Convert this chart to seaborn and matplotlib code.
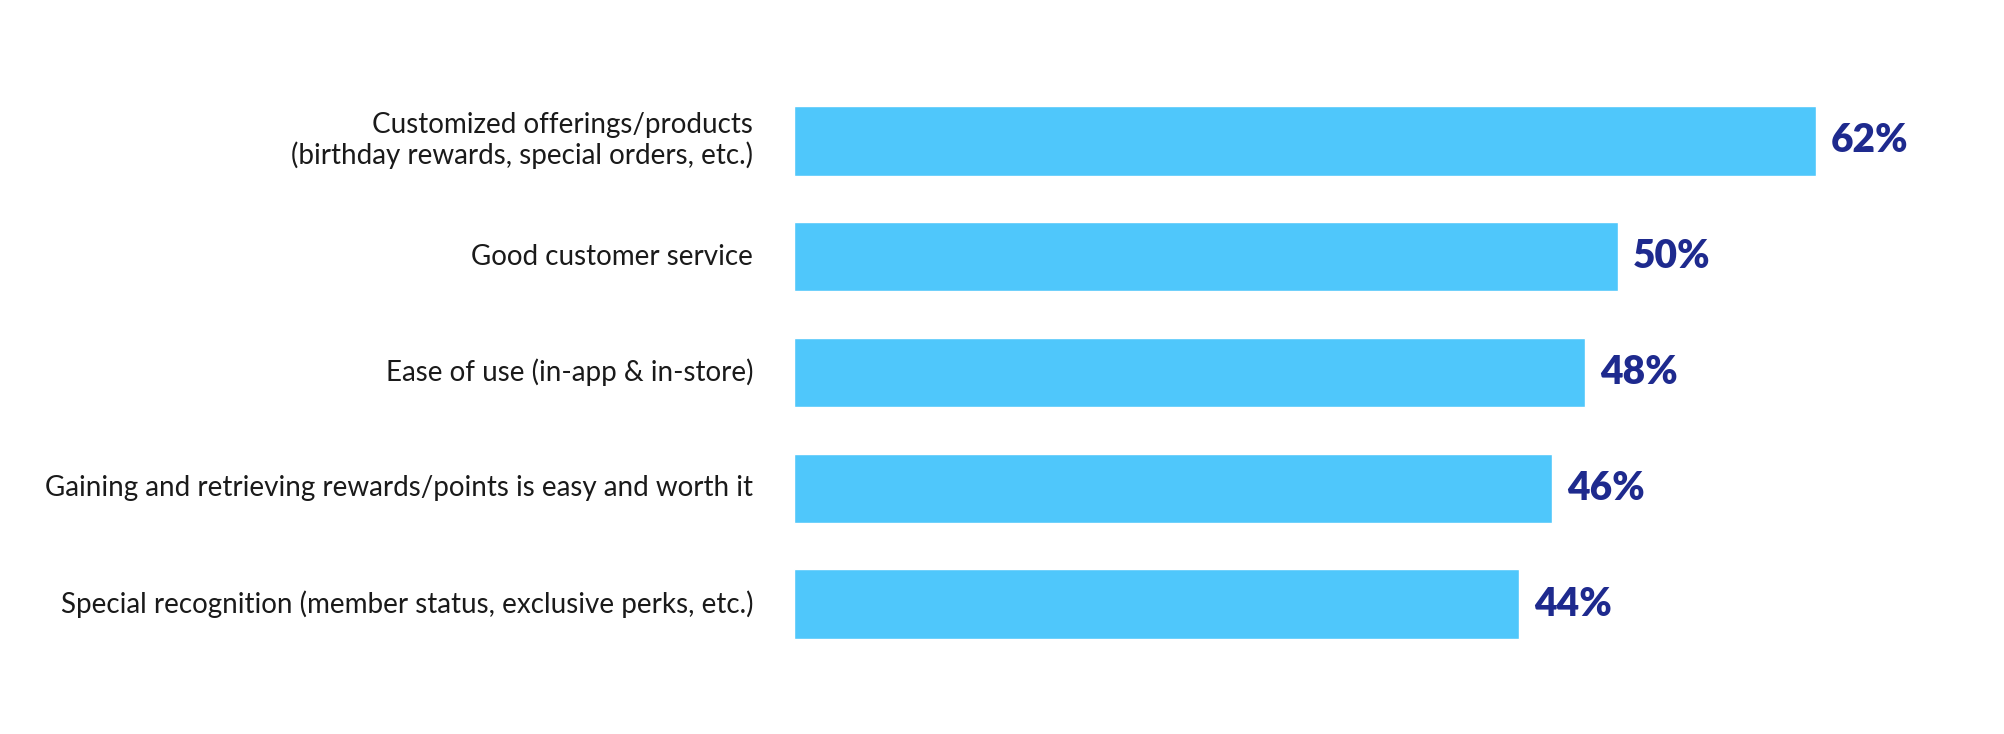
import matplotlib
matplotlib.use("Agg")
import matplotlib.pyplot as plt
import seaborn as sns
import pandas as pd

categories = [
    "Customized offerings/products\n(birthday rewards, special orders, etc.)",
    "Good customer service",
    "Ease of use (in-app & in-store)",
    "Gaining and retrieving rewards/points is easy and worth it",
    "Special recognition (member status, exclusive perks, etc.)",
]
values = [62, 50, 48, 46, 44]
value_labels = ["62%", "50%", "48%", "46%", "44%"]

df = pd.DataFrame({"category": categories, "value": values})

sns.set_style("white")
plt.rcParams['font.family'] = ['Lato', 'DejaVu Sans']

fig = plt.figure(figsize=(20.04, 7.34), dpi=100)
ax = fig.add_axes([0.396, 0.098, 0.576, 0.789])

sns.barplot(data=df, x="value", y="category", color="#4FC7FB", saturation=1,
            width=0.6, ax=ax)

ax.set_xlim(0, 70)
ax.set_ylim(4.5, -0.5)
ax.set_xlabel("")
ax.set_ylabel("")
ax.set_xticks([])
sns.despine(ax=ax, left=True, bottom=True)
ax.tick_params(axis="y", length=0, pad=29, labelsize=20, labelcolor="#1a1a1a")
for lab in ax.get_yticklabels():
    lab.set_horizontalalignment("right")
    lab.set_multialignment("right")
    lab.set_verticalalignment("center")
    lab.set_linespacing(1.15)

for i, (v, t) in enumerate(zip(values, value_labels)):
    ax.text(v + 0.9, i, t, va="center", ha="left", fontsize=28,
            fontweight="heavy", color="#1E2A8E")

fig.savefig("out.png", dpi=100, facecolor="white")
